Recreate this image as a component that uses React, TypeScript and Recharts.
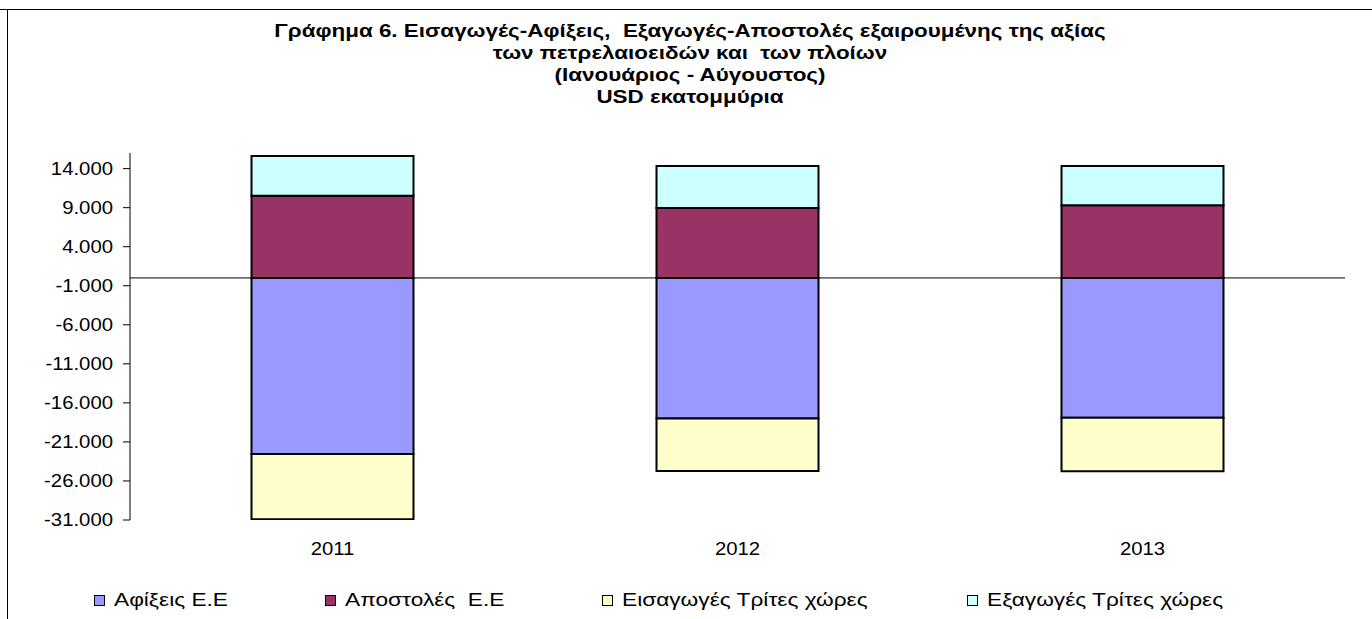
import { BarChart, Bar, XAxis, YAxis, ReferenceLine } from "recharts";

const years = ["2011", "2012", "2013"];
const arrivalsEU = [-22560, -17990, -17910];
const dispatchesEU = [10540, 8960, 9300];
const importsThird = [-8350, -6740, -6860];
const exportsThird = [5070, 5370, 5030];

const yTicks = [14000, 9000, 4000, -1000, -6000, -11000, -16000, -21000, -26000, -31000];

const titleLines = [
  "Γράφημα 6. Εισαγωγές-Αφίξεις,  Εξαγωγές-Αποστολές εξαιρουμένης της αξίας",
  "των πετρελαιοειδών και  των πλοίων",
  "(Ιανουάριος - Αύγουστος)",
  "USD εκατομμύρια",
];

const series = [
  { key: "arrivals", name: "Αφίξεις Ε.Ε", color: "#9999FF", values: arrivalsEU },
  { key: "dispatches", name: "Αποστολές  Ε.Ε", color: "#993366", values: dispatchesEU },
  { key: "imports", name: "Εισαγωγές Τρίτες χώρες", color: "#FFFFCC", values: importsThird },
  { key: "exports", name: "Εξαγωγές Τρίτες χώρες", color: "#CCFFFF", values: exportsThird },
];

const legendX = [94, 325, 602, 967];

const data = years.map((year, i) => {
  const row: Record<string, string | number> = { year };
  series.forEach((s) => (row[s.key] = s.values[i]));
  return row;
});

const font = '"Liberation Sans", Arial, sans-serif';

function fmt(v: number) {
  const sign = v < 0 ? "-" : "";
  const a = Math.abs(v);
  const th = Math.floor(a / 1000);
  const rest = String(a % 1000).padStart(3, "0");
  return th > 0 ? `${sign}${th}.${rest}` : `${sign}${a}`;
}

// reference text is drawn a bit wide, so stretch it horizontally
function YTick(props: any) {
  const { x, y, payload } = props;
  return (
    <g transform={`translate(${x},${y}) scale(1.13,1)`}>
      <text x={0} y={0} dy="0.35em" textAnchor="end" fill="#000" fontSize={18} fontFamily={font}>
        {fmt(payload.value)}
      </text>
    </g>
  );
}

function XTick(props: any) {
  const { x, y, payload } = props;
  return (
    <g transform={`translate(${x},${y}) scale(1.13,1)`}>
      <text x={0} y={0} dy="0.71em" textAnchor="middle" fill="#000" fontSize={18} fontFamily={font}>
        {payload.value}
      </text>
    </g>
  );
}

export default function App() {
  return (
    <div style={{ position: "absolute", left: 0, top: 0, width: 1372, height: 619, background: "#fff", fontFamily: font, overflow: "hidden" }}>
      <div style={{ position: "absolute", left: 0, width: 1380, top: 20, textAlign: "center", fontWeight: "bold", fontSize: 19, lineHeight: "22px", color: "#000", transform: "scaleX(1.18)", transformOrigin: "690px 0" }}>
        {titleLines.map((t) => (
          <div key={t} style={{ whiteSpace: "pre" }}>{t}</div>
        ))}
      </div>
      <div style={{ position: "absolute", left: 0, top: 0 }}>
        <BarChart
          width={1372}
          height={619}
          data={data}
          stackOffset="sign"
          barCategoryGap="30%"
          margin={{ top: 153, right: 27, bottom: 59, left: 0 }}
        >
          <XAxis
            dataKey="year"
            axisLine={false}
            tickLine={false}
            tickSize={0}
            tickMargin={22}
            height={40}
            tick={<XTick />}
          />
          <YAxis
            width={130}
            domain={[-31000, 16000]}
            ticks={yTicks}
            interval={0}
            allowDataOverflow
            axisLine={{ stroke: "#000" }}
            tickLine={{ stroke: "#000" }}
            tickSize={7}
            tickMargin={10}
            tick={<YTick />}
          />
          {series.map((s) => (
            <Bar
              key={s.key}
              dataKey={s.key}
              name={s.name}
              stackId="a"
              fill={s.color}
              stroke="#000"
              strokeWidth={2}
              isAnimationActive={false}
            />
          ))}
          <ReferenceLine y={0} stroke="#000" strokeWidth={1} />
        </BarChart>
      </div>
      {series.map((s, i) => (
        <div key={s.key} style={{ position: "absolute", left: legendX[i], top: 590, height: 20, display: "flex", alignItems: "center", fontSize: 18, color: "#000", whiteSpace: "pre" }}>
          <span style={{ display: "inline-block", width: 9, height: 9, background: s.color, border: "1px solid #000", marginRight: 9, flex: "none" }} />
          <span style={{ display: "inline-block", transform: "scaleX(1.26)", transformOrigin: "0 50%" }}>{s.name}</span>
        </div>
      ))}
      <div style={{ position: "absolute", left: 0, top: 9, width: 1372, height: 1, background: "#000", zIndex: 10 }} />
      <div style={{ position: "absolute", left: 7, top: 9, width: 1, height: 610, background: "#000", zIndex: 10 }} />
    </div>
  );
}
